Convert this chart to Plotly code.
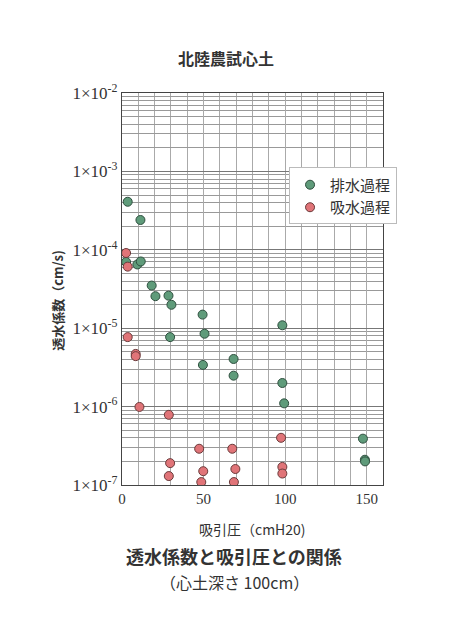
import plotly.graph_objects as go

# 排水過程 (drainage)
drain_x = [3.5, 11.3, 2.5, 9.4, 11.5, 18.2, 20.5, 28.5, 30.3, 49.4, 50.6, 29.5,
           98.3, 49.6, 68.4, 68.4, 98.3, 99.4, 147.7, 148.9, 149.0]
drain_k = [4.1e-4, 2.4e-4, 7.0e-5, 6.5e-5, 7.1e-5, 3.5e-5, 2.56e-5, 2.6e-5, 1.99e-5,
           1.49e-5, 8.5e-6, 7.7e-6, 1.09e-5, 3.4e-6, 4.05e-6, 2.48e-6, 2.0e-6, 1.1e-6,
           3.9e-7, 2.1e-7, 2.0e-7]

# 吸水過程 (wetting)
wet_x = [2.5, 3.5, 3.5, 8.4, 8.4, 10.7, 28.7, 97.5, 47.3, 67.6, 29.5, 69.5,
         98.3, 98.3, 49.8, 28.7, 48.6, 68.6]
wet_k = [9.1e-5, 6.1e-5, 7.7e-6, 4.7e-6, 4.4e-6, 9.9e-7, 7.85e-7, 4.0e-7, 2.9e-7,
         2.9e-7, 1.9e-7, 1.6e-7, 1.7e-7, 1.4e-7, 1.5e-7, 1.3e-7, 1.09e-7, 1.09e-7]

exponents = [-7, -6, -5, -4, -3, -2]
x_ticks = [0, 50, 100, 150]

jp = "Noto Sans CJK JP"
serif = "Liberation Serif"

fig = go.Figure()
fig.add_trace(go.Scatter(
    x=drain_x, y=drain_k, mode="markers", name="排水過程",
    marker=dict(size=9, color="#5f9b7a", line=dict(color="#2f4f3f", width=1)),
))
fig.add_trace(go.Scatter(
    x=wet_x, y=wet_k, mode="markers", name="吸水過程",
    marker=dict(size=9, color="#e07478", line=dict(color="#6a3a3a", width=1)),
))

fig.update_layout(
    width=452, height=640,
    margin=dict(l=114, r=77, t=85, b=163),
    paper_bgcolor="white", plot_bgcolor="white",
    showlegend=True,
    legend=dict(
        x=0.64, y=0.81, xanchor="left", yanchor="top",
        bgcolor="white", bordercolor="#bbbbbb", borderwidth=1,
        font=dict(family=jp, size=15, color="#333333"),
        itemwidth=30, tracegroupgap=2,
    ),
    xaxis=dict(
        range=[0, 160], tickvals=x_ticks, ticks="",
        tickfont=dict(family=serif, size=15, color="#333333"),
        showgrid=True, gridcolor="#aaaaaa", gridwidth=1,
        minor=dict(dtick=10, showgrid=True, gridcolor="#aaaaaa", gridwidth=1),
        zeroline=False, showline=True, linecolor="#444444", linewidth=1.2, mirror=True,
    ),
    yaxis=dict(
        type="log", range=[-7, -2],
        tickvals=[10.0 ** e for e in exponents],
        ticktext=["1×10<sup>%d</sup>" % e for e in exponents],
        ticks="", tickfont=dict(family=serif, size=17, color="#333333"),
        showgrid=True, gridcolor="#777777", gridwidth=1,
        minor=dict(dtick="D1", showgrid=True, gridcolor="#999999", gridwidth=1),
        zeroline=False, showline=True, linecolor="#444444", linewidth=1.2, mirror=True,
    ),
)

annots = [
    dict(text="<b>北陸農試心土</b>", x=0.40, y=1.09, size=16),
    dict(text="吸引圧（cmH20)", x=0.5, y=-0.113, size=14),
    dict(text="<b>透水係数と吸引圧との関係</b>", x=0.43, y=-0.180, size=18),
    dict(text="（心土深さ 100cm）", x=0.43, y=-0.248, size=16),
]
for a in annots:
    fig.add_annotation(
        text=a["text"], x=a["x"], y=a["y"], xref="paper", yref="paper",
        showarrow=False, xanchor="center", yanchor="middle",
        font=dict(family=jp, size=a["size"], color="#333333"),
    )
fig.add_annotation(
    text="<b>透水係数（cm/s)</b>", x=-0.245, y=0.47, xref="paper", yref="paper",
    showarrow=False, textangle=-90, xanchor="center", yanchor="middle",
    font=dict(family=jp, size=13, color="#333333"),
)

fig.write_html("out.html")
